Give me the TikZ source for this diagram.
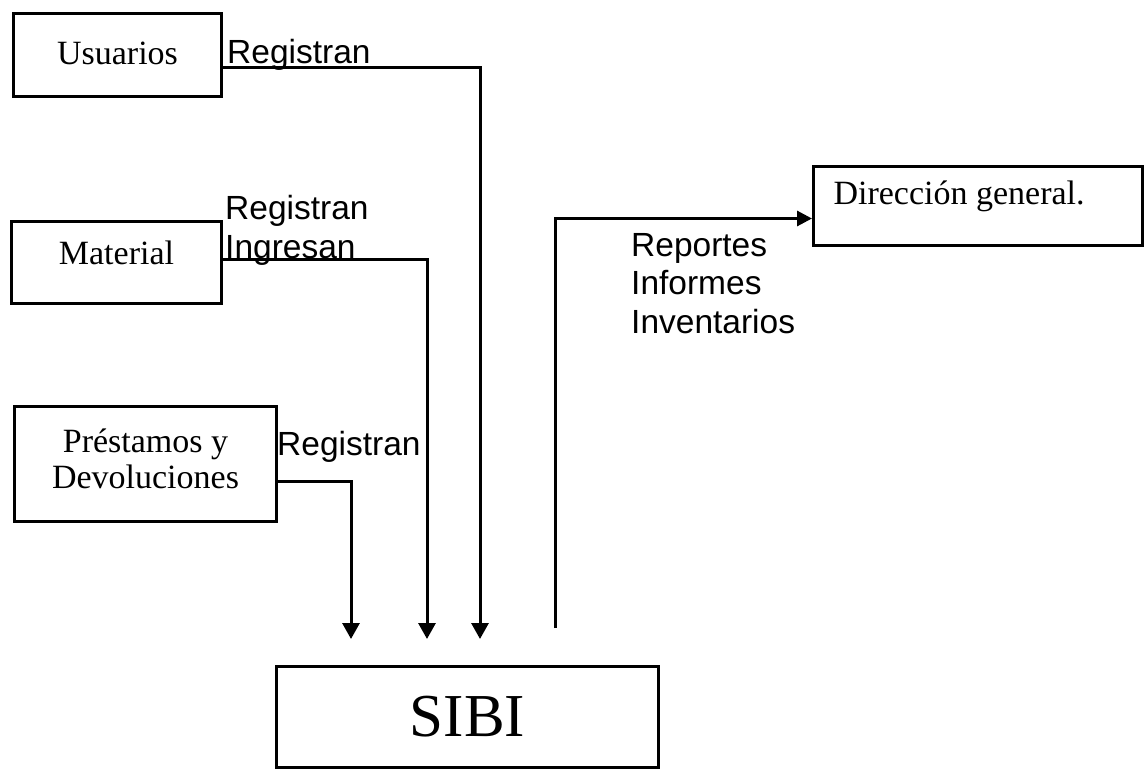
\documentclass[tikz,border=0pt]{standalone}
\usepackage{fontspec}
\setmainfont{Liberation Serif}
\newfontfamily\arialfont{Liberation Sans}
\usetikzlibrary{arrows.meta}

\tikzset{
  box/.style={draw, line width=3pt, inner sep=0pt, anchor=north west,
    align=center, font=\fontsize{34}{36}\selectfont},
  lbl/.style={anchor=base west, inner sep=0pt, align=left,
    font=\arialfont\fontsize{33.5}{38.5}\selectfont},
  flow/.style={line width=3pt, -{Triangle[length=16pt,width=17pt]}},
}

\begin{document}
\begin{tikzpicture}[x=1pt,y=-1pt]
\useasboundingbox (0,0) rectangle (1144,769);

% source boxes
\node[box, minimum width=208pt, text height=51pt, text depth=32pt] (usu) at (12,12) {Usuarios};
\node[box, minimum width=210pt, text height=43pt, text depth=39pt] (mat) at (10,220) {Material};
\node[box, minimum width=262pt, text height=82pt, text depth=33pt] (pre) at (13,405) {Préstamos y\\Devoluciones};

% central system
\node[box, minimum width=382pt, text height=70pt, text depth=31pt,
      font=\fontsize{61}{61}\selectfont] (sibi) at (275,665) {SIBI};

% management box, text set to the left
\node[box, align=flush left, minimum width=329pt, inner xsep=20pt, text width=289pt,
      text height=38pt, text depth=41pt] (dir) at (812,165) {Dirección general.};

% arrow tips and free ends
\coordinate (tipP) at (351,639);
\coordinate (tipM) at (427,639);
\coordinate (tipU) at (480,639);
\coordinate (repStart) at (555,628);

% flows into SIBI
\draw[flow] ([yshift=-12pt]usu.east) -| (tipU);
\draw[flow] ([yshift=3pt]mat.east) -| (tipM);
\draw[flow] ([yshift=-17.5pt]pre.east) -| (tipP);

% flow out to management
\draw[flow, -{Triangle[length=15pt,width=15pt]}] (repStart) |- ([yshift=-12.5pt]dir.west);

% connector labels
\node[lbl] (lu) at (227,63) {Registran};
\node[lbl] (lm) at (225,258) {Registran\\Ingresan};
\node[lbl] (lp) at (277,455) {Registran};
\node[lbl] (lr) at (631,333) {Reportes\\Informes\\Inventarios};
\end{tikzpicture}
\end{document}
